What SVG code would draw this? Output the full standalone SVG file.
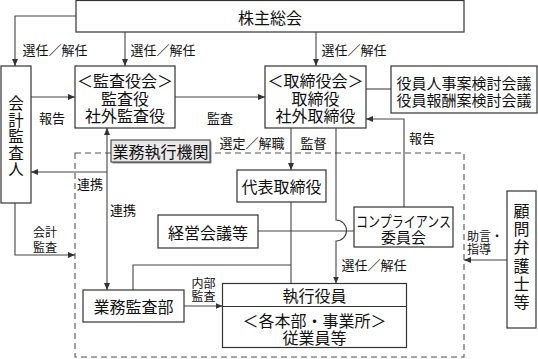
<svg xmlns="http://www.w3.org/2000/svg" width="538" height="359" viewBox="0 0 538 359">
<style>
text{font-family:"Noto Sans CJK JP","Noto Sans CJK SC",sans-serif;fill:#111;dominant-baseline:central;text-anchor:middle}
.box{fill:#fff;stroke:#333;stroke-width:1.2}
.t{font-size:16px}
.v{font-size:15.5px}
.m{font-size:15px}
.l{font-size:13px}
.s{font-size:12px}
.c{fill:none;stroke:#444;stroke-width:1.1}
.dash{fill:none;stroke:#555;stroke-width:1.1;stroke-dasharray:6 4}
</style>
<defs>
<marker id="ar" markerUnits="userSpaceOnUse" markerWidth="8" markerHeight="8" refX="7" refY="3" orient="auto-start-reverse"><path d="M0,0 L7,3 L0,6 z" fill="#333"/></marker>
</defs>
<rect class="dash" x="75" y="153" width="389" height="204"/>
<g id="connectors">
<path class="c" d="M76,16 H15 V66" marker-end="url(#ar)"/>
<path class="c" d="M125,32 V66" marker-end="url(#ar)"/>
<path class="c" d="M316,32 V66" marker-end="url(#ar)"/>
<path class="c" d="M31,97 H75" marker-end="url(#ar)"/>
<path class="c" d="M175,97 H265" marker-end="url(#ar)"/>
<path class="c" d="M366,89 H391"/>
<path class="c" d="M404,207 V119 H366" marker-end="url(#ar)"/>
<path class="c" d="M291,128 V170" marker-end="url(#ar)"/>
<path class="c" d="M336,128 V220 A10.5,10.5 0 0 1 336,241 V283.5" marker-end="url(#ar)"/>
<path class="c" d="M291,202 V283.5"/>
<path class="c" d="M258,231 H354"/>
<path class="c" d="M133,290 V265 H291"/>
<path class="c" d="M107,128 V290" marker-start="url(#ar)" marker-end="url(#ar)"/>
<path class="c" d="M107,172 H31" marker-end="url(#ar)"/>
<path class="c" d="M15,203 V255 H75" marker-end="url(#ar)"/>
<path class="c" d="M184,306 H222.5" marker-end="url(#ar)"/>
<path class="c" d="M507,260 H464" marker-end="url(#ar)"/>
<text class="l" x="55" y="49">選任／解任</text>
<text class="l" x="163" y="49">選任／解任</text>
<text class="l" x="354" y="49">選任／解任</text>
<text class="l" x="52" y="117">報告</text>
<text class="l" x="220" y="117">監査</text>
<text class="l" x="422" y="137">報告</text>
<text class="l" x="252" y="142">選定／解職</text>
<text class="l" x="313.5" y="142">監督</text>
<text class="l" x="90" y="183">連携</text>
<text class="l" x="123" y="209">連携</text>
<text class="s" x="45" y="231">会計</text>
<text class="s" x="45" y="246">監査</text>
<text class="s" x="203.5" y="282">内部</text>
<text class="s" x="203.5" y="295.5">監査</text>
<text class="l" x="374" y="264">選任／解任</text>
<text class="s" x="467" y="235.5" style="text-anchor:start">助言・</text>
<text class="s" x="467" y="248.5" style="text-anchor:start">指導</text>
</g>
<g id="kabunushi">
<rect class="box" x="76" y="0.5" width="388" height="31.5"/>
<text class="t" x="270" y="16.5">株主総会</text>
</g>
<g id="kansayakukai">
<rect class="box" x="75" y="66" width="100" height="62"/>
<text class="t" x="125" y="80">＜監査役会＞</text>
<text class="t" x="125" y="98">監査役</text>
<text class="t" x="125" y="115">社外監査役</text>
</g>
<g id="torishimariyakukai">
<rect class="box" x="265" y="66" width="101" height="62"/>
<text class="t" x="315.5" y="80">＜取締役会＞</text>
<text class="t" x="315.5" y="98">取締役</text>
<text class="t" x="315.5" y="115">社外取締役</text>
</g>
<g id="kentoukaigi">
<rect class="box" x="391" y="66" width="146" height="47"/>
<text class="m" x="464" y="82">役員人事案検討会議</text>
<text class="m" x="464" y="99">役員報酬案検討会議</text>
</g>
<g id="kaikeikansanin">
<rect class="box" x="1" y="66" width="30" height="137"/>
<text class="v" x="16" y="102">会</text>
<text class="v" x="16" y="118.5">計</text>
<text class="v" x="16" y="135">監</text>
<text class="v" x="16" y="151.5">査</text>
<text class="v" x="16" y="168">人</text>
</g>
<g id="gyoumushikkoukikan">
<rect x="112.5" y="141.5" width="99" height="22" fill="#888"/>
<rect x="111" y="140" width="99" height="22" fill="#e8e8e8" stroke="#444" stroke-width="1.1"/>
<text class="t" x="160.5" y="151">業務執行機関</text>
</g>
<g id="daihyou">
<rect class="box" x="237" y="170" width="89" height="32"/>
<text class="t" x="281.5" y="186">代表取締役</text>
</g>
<g id="keieikaigi">
<rect class="box" x="158" y="215" width="100" height="33"/>
<text class="t" x="208" y="231.5">経営会議等</text>
</g>
<g id="compliance">
<rect class="box" x="354" y="207" width="99" height="40"/>
<text class="m" x="403.5" y="220" textLength="95" lengthAdjust="spacingAndGlyphs">コンプライアンス</text>
<text class="m" x="403.5" y="236.5">委員会</text>
</g>
<g id="gyoumukansabu">
<rect class="box" x="83" y="290" width="101" height="32"/>
<text class="t" x="133.5" y="306">業務監査部</text>
</g>
<g id="shikkouyakuin">
<rect class="box" x="222.5" y="283.5" width="184" height="64"/>
<line x1="222.5" y1="306.5" x2="406.5" y2="306.5" stroke="#333" stroke-width="1.2"/>
<text class="t" x="314.5" y="295">執行役員</text>
<text class="t" x="314.5" y="320">＜各本部・事業所＞</text>
<text class="t" x="314.5" y="337">従業員等</text>
</g>
<g id="komonbengoshi">
<rect class="box" x="507" y="191" width="29" height="137"/>
<text class="t" x="521.5" y="209.7">顧</text>
<text class="t" x="521.5" y="228">問</text>
<text class="t" x="521.5" y="246.3">弁</text>
<text class="t" x="521.5" y="264.6">護</text>
<text class="t" x="521.5" y="283">士</text>
<text class="t" x="521.5" y="301.3">等</text>
</g>
</svg>
